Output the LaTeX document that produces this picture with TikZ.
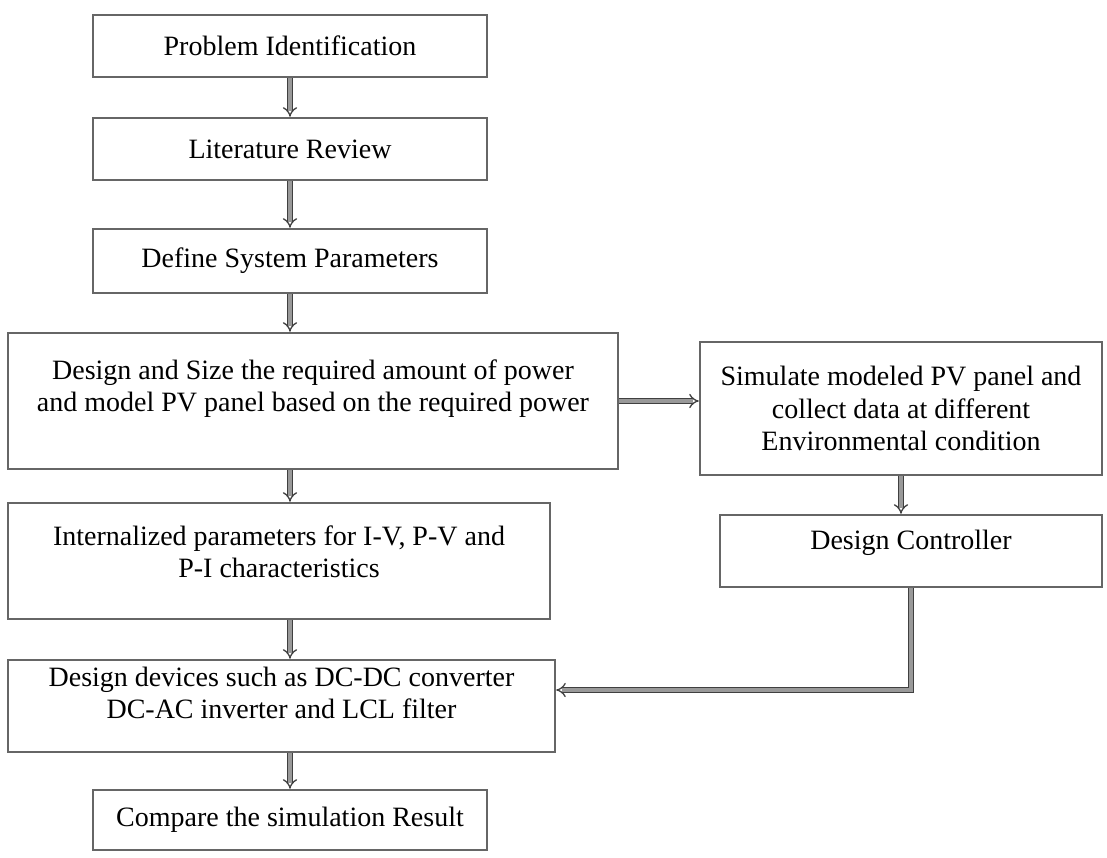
\documentclass[tikz,border=0pt]{standalone}
\usepackage{fontspec}
\setmainfont{Liberation Serif}
\usetikzlibrary{arrows.meta}

\begin{document}
\begin{tikzpicture}[
  x=1pt, y=-1pt,
  font=\fontsize{28}{32.5}\selectfont,
  box/.style={draw=black!60, line width=2.4pt, align=center, inner sep=0pt},
  lift/.style={text depth=#1},
  arrow/.style={-{Implies}, draw=black!75, line width=1.3pt, double=black!40, double distance=3.6pt}
]
\useasboundingbox (0,0) rectangle (1107,857);

% main column
\node[box, minimum width=394pt, minimum height=62pt] (prob) at (290,46) {Problem Identification};
\node[box, minimum width=394pt, minimum height=62pt] (lit) at (290,149) {Literature Review};
\node[box, minimum width=394pt, minimum height=64pt] (sys) at (290,261) {Define System Parameters};
\node[box, lift=31pt, minimum width=610pt, minimum height=136pt] (design) at (313,401) {Design and Size the required amount of power\\and model PV panel based on the required power};
\node[box, lift=19pt, minimum width=542pt, minimum height=116pt] (intern) at (279,561) {Internalized parameters for I-V, P-V and\\P-I characteristics};
\node[box, lift=26pt, minimum width=547pt, minimum height=92pt] (dev) at (281.5,706) {Design devices such as DC-DC converter\\DC-AC inverter and LCL filter};
\node[box, minimum width=394pt, minimum height=60pt] (comp) at (290,820) {Compare the simulation Result};

% right column
\node[box, minimum width=402pt, minimum height=133pt] (sim) at (901,408.5) {Simulate modeled PV panel and\\collect data at different\\Environmental condition};
\node[box, lift=22pt, minimum width=382pt, minimum height=72pt] (ctrl) at (911,551) {Design Controller};

\draw[arrow] (prob) -- (lit);
\draw[arrow] (lit) -- (sys);
\draw[arrow] (sys) -- (sys |- design.north);
\draw[arrow] (design.south -| sys) -- (intern.north -| sys);
\draw[arrow] (intern.south -| sys) -- (dev.north -| sys);
\draw[arrow] (dev.south -| comp) -- (comp);
\draw[arrow] (design.east) -- (design.east -| sim.west);
\draw[arrow] (sim) -- (sim |- ctrl.north);
\draw[arrow] (ctrl.south) |- ([yshift=16pt]dev.east);
\end{tikzpicture}
\end{document}
